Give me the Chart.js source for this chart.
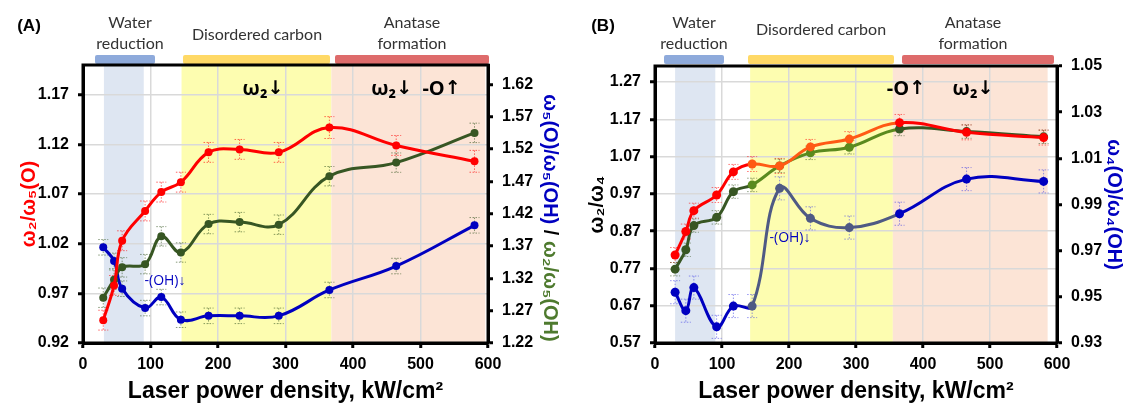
<!DOCTYPE html>
<html>
<head>
<meta charset="utf-8">
<script src="https://cdn.jsdelivr.net/npm/chart.js@4"></script>
<style>
  body { margin: 0; background: #fff; }
  #wrap { position: relative; width: 1130px; height: 410px; }
  #chartA { position: absolute; left: 0; top: 0; }
  #chartB { position: absolute; left: 565px; top: 0; }
</style>
</head>
<body>
<div id="wrap">
  <canvas id="chartA" width="565" height="410"></canvas>
  <canvas id="chartB" width="565" height="410"></canvas>
</div>
<script>
// ---- Données panneau (A) ----
const powerA = [30, 46, 58, 92, 116, 145, 186, 232, 290, 365, 464, 580];
const redA   = [0.943, 0.978, 1.023, 1.053, 1.072, 1.082, 1.112, 1.115, 1.112, 1.137, 1.119, 1.103];
const greenA = [1.290, 1.318, 1.337, 1.342, 1.385, 1.360, 1.404, 1.407, 1.403, 1.478, 1.499, 1.545];
const blueA  = [1.368, 1.347, 1.304, 1.274, 1.291, 1.256, 1.262, 1.262, 1.262, 1.302, 1.339, 1.402];
const errRedA   = [0.010, 0.010, 0.010, 0.010, 0.010, 0.010, 0.010, 0.010, 0.010, 0.011, 0.010, 0.011];
const errGreenA = [0.015, 0.015, 0.015, 0.015, 0.015, 0.015, 0.015, 0.015, 0.015, 0.015, 0.015, 0.015];
const errBlueA  = [0.012, 0.012, 0.012, 0.012, 0.012, 0.012, 0.012, 0.012, 0.012, 0.012, 0.012, 0.012];
const zoneStartA = [31, 146, 368];
const zoneEndA   = [90, 368, 596];

// ---- Données panneau (B) ----
const powerB = [30, 46, 58, 92, 117, 145, 186, 232, 290, 365, 465, 580];
const redB   = [0.806, 0.869, 0.925, 0.967, 1.029, 1.050, 1.045, 1.096, 1.117, 1.161, 1.135, 1.121];
const greenB = [0.768, 0.820, 0.885, 0.907, 0.976, 0.994, 1.045, 1.080, 1.095, 1.144, 1.137, 1.123];
const blueB  = [0.952, 0.944, 0.954, 0.937, 0.946, 0.946, 0.997, 0.984, 0.980, 0.986, 1.001, 1.000];
const errRedB   = [0.020, 0.020, 0.020, 0.020, 0.020, 0.020, 0.020, 0.020, 0.020, 0.022, 0.020, 0.020];
const errGreenB = [0.018, 0.018, 0.018, 0.018, 0.018, 0.018, 0.018, 0.018, 0.018, 0.018, 0.018, 0.018];
const errBlueB  = [0.005, 0.005, 0.005, 0.005, 0.005, 0.005, 0.005, 0.005, 0.005, 0.005, 0.005, 0.005];
const zoneStartB = [30, 142, 355];
const zoneEndB   = [90, 355, 586];

// ---- Graduations ----
const ticksX      = [0, 100, 200, 300, 400, 500, 600];
const ticksLeftA  = [0.92, 0.97, 1.02, 1.07, 1.12, 1.17];
const ticksRightA = [1.22, 1.27, 1.32, 1.37, 1.42, 1.47, 1.52, 1.57, 1.62];
const ticksLeftB  = [0.57, 0.67, 0.77, 0.87, 0.97, 1.07, 1.17, 1.27];
const ticksRightB = [0.93, 0.95, 0.97, 0.99, 1.01, 1.03, 1.05];

const FONT = '"Liberation Sans", Arial, sans-serif';
const LABEL_FONT = 'Lato, "Open Sans", sans-serif';
const NOTE_FONT = 'bold 20px "Open Sans", sans-serif';
const ARROW_FONT = 'bold 19px "DejaVu Sans", sans-serif';
const SMALL_FONT = '14px "Open Sans", sans-serif';
const RED = '#ff0000', GREEN = '#375623', BLUE = '#0000c0';

// Construit un axe Y
function yAxis(position, min, max, ticks, width, onArea, title, padTop) {
    return {
        type: 'linear', position, min, max,
        afterBuildTicks: s => { s.ticks = ticks.map(v => ({ value: v })); },
        afterFit: s => { s.width = width; },
        grid: { drawOnChartArea: onArea, color: '#d9d9d9', lineWidth: 1.5, tickColor: '#000', tickLength: 5, tickWidth: 3 },
        border: { color: '#000', width: 3 },
        ticks: { color: '#000', padding: 9, font: { family: FONT, size: 16, weight: 'bold' }, callback: v => v.toFixed(2) },
        title: title ? { display: true, text: title.text, color: title.color, padding: { top: padTop, bottom: 0 },
                         font: { family: FONT, size: 20, weight: 'bold' } } : { display: false }
    };
}

function xAxis() {
    return {
        type: 'linear', min: 0, max: 600,
        afterBuildTicks: s => { s.ticks = ticksX.map(v => ({ value: v })); },
        afterFit: s => { s.height = 67; },
        grid: { color: '#d9d9d9', lineWidth: 1.5, tickColor: '#000', tickLength: 5, tickWidth: 3 },
        border: { color: '#000', width: 3 },
        ticks: { color: '#000', padding: 7, maxRotation: 0, font: { family: FONT, size: 16, weight: 'bold' } },
        title: { display: true, text: 'Laser power density, kW/cm²', color: '#000', padding: { top: 0, bottom: 5 },
                 font: { family: FONT, size: 23, weight: 'bold' } }
    };
}

function points(xs, ys) {
    return xs.map((x, i) => ({ x, y: ys[i] }));
}

// Texte centré, flèches éventuellement dans une autre police
function drawNote(ctx, text, x, y, font, arrowFont) {
    const runs = [...text].map(c => ({ c, f: (c === '↓' || c === '↑') ? (arrowFont || font) : font }));
    let total = 0;
    runs.forEach(r => { ctx.font = r.f; r.w = ctx.measureText(r.c).width; total += r.w; });
    let cx = x - total / 2;
    ctx.textAlign = 'left';
    runs.forEach(r => { ctx.font = r.f; ctx.fillText(r.c, cx, y); cx += r.w; });
}

// Plugin : zones colorées, en-têtes, barres d'erreur, cadre, annotations
const decoPlugin = {
    id: 'deco',
    beforeDraw(chart, args, opts) {
        const { ctx, chartArea: a, scales: { x } } = chart;
        ctx.save();
        ctx.fillStyle = '#fff';
        ctx.fillRect(0, 0, chart.width, chart.height);
        opts.zoneStart.forEach((s, i) => {
            const x0 = x.getPixelForValue(s), x1 = x.getPixelForValue(opts.zoneEnd[i]);
            ctx.fillStyle = opts.zoneColors[i];
            ctx.fillRect(x0, a.top, x1 - x0, a.bottom - a.top);
        });
        opts.bars.forEach(b => {
            ctx.fillStyle = b.color;
            ctx.beginPath();
            ctx.roundRect(b.x0, 55, b.x1 - b.x0, 9, 2);
            ctx.fill();
        });
        ctx.fillStyle = '#333';
        ctx.font = '16px ' + LABEL_FONT;
        ctx.textAlign = 'center';
        ctx.textBaseline = 'middle';
        opts.headers.forEach(h => {
            h.lines.forEach((t, j) => ctx.fillText(t, h.x, h.y + j * 21));
        });
        ctx.fillStyle = '#000';
        ctx.font = 'bold 17px ' + FONT;
        ctx.fillText(opts.panel, opts.panelX, 26);
        ctx.restore();
    },
    beforeDatasetsDraw(chart) {
        const { ctx, scales } = chart;
        ctx.save();
        ctx.lineWidth = 1;
        ctx.setLineDash([1.5, 1.5]);
        chart.data.datasets.forEach(ds => {
            if (!ds.errors) return;
            const ys = scales[ds.yAxisID];
            ctx.strokeStyle = ds.errColor;
            ds.data.forEach((p, i) => {
                const px = scales.x.getPixelForValue(p.x);
                const top = ys.getPixelForValue(p.y + ds.errors[i]);
                const bot = ys.getPixelForValue(p.y - ds.errors[i]);
                ctx.beginPath();
                ctx.moveTo(px, top); ctx.lineTo(px, bot);
                ctx.moveTo(px - 5, top); ctx.lineTo(px + 5, top);
                ctx.moveTo(px - 5, bot); ctx.lineTo(px + 5, bot);
                ctx.stroke();
            });
        });
        ctx.restore();
    },
    afterDatasetsDraw(chart, args, opts) {
        const { ctx, chartArea: a } = chart;
        ctx.save();
        ctx.strokeStyle = '#000';
        ctx.lineWidth = 3;
        ctx.strokeRect(a.left, a.top, a.right - a.left, a.bottom - a.top);
        ctx.textBaseline = 'middle';
        opts.notes.forEach(n => {
            ctx.fillStyle = n.color;
            drawNote(ctx, n.text, n.x, n.y, n.font, n.arrowFont);
        });
        // titre droit bicolore (A)
        if (opts.rightTitle) {
            const parts = opts.rightTitle;
            ctx.font = 'bold 20px ' + FONT;
            const total = parts.reduce((s, p) => s + ctx.measureText(p.text).width, 0);
            ctx.translate(opts.rightTitleX, (a.top + a.bottom) / 2 + 14);
            ctx.rotate(Math.PI / 2);
            ctx.textAlign = 'left';
            let cx = -total / 2;
            parts.forEach(p => {
                ctx.fillStyle = p.color;
                ctx.fillText(p.text, cx, 0);
                cx += ctx.measureText(p.text).width;
            });
        }
        ctx.restore();
    }
};

// ---- Graphique (A) ----
new Chart(document.getElementById('chartA'), {
    type: 'line',
    data: {
        datasets: [
            { label: 'ω2/ω5(O)', data: points(powerA, redA), yAxisID: 'y', borderColor: RED, backgroundColor: RED,
              errors: errRedA, errColor: 'rgba(255,0,0,0.6)' },
            { label: 'ω2/ω5(OH)', data: points(powerA, greenA), yAxisID: 'y2', borderColor: GREEN, backgroundColor: GREEN,
              errors: errGreenA, errColor: 'rgba(55,86,35,0.6)' },
            { label: 'ω5(O)/ω5(OH)', data: points(powerA, blueA), yAxisID: 'y2', borderColor: BLUE, backgroundColor: BLUE,
              errors: errBlueA, errColor: 'rgba(55,86,35,0.6)' }
        ]
    },
    options: {
        responsive: false, animation: false, devicePixelRatio: 1,
        layout: { padding: { top: 65, left: 0, right: 0, bottom: 0 } },
        elements: { line: { borderWidth: 3, tension: 0.4 }, point: { radius: 4, borderWidth: 0 } },
        scales: {
            x: xAxis(),
            y: yAxis('left', 0.92, 1.20, ticksLeftA, 83, true, { text: 'ω₂/ω₅(O)', color: RED }, 17),
            y2: yAxis('right', 1.22, 1.65, ticksRightA, 77, false, null, 0)
        },
        plugins: {
            legend: { display: false }, tooltip: { enabled: false },
            deco: {
                panel: '(A)', panelX: 29,
                zoneStart: zoneStartA, zoneEnd: zoneEndA,
                zoneColors: ['#dee6f2', '#fdfdb0', '#fce4d6'],
                bars: [{ x0: 95, x1: 155, color: '#8eaadb' }, { x0: 183, x1: 330, color: '#ffd966' }, { x0: 335, x1: 489, color: '#de6b6b' }],
                headers: [{ x: 130, y: 23, lines: ['Water', 'reduction'] }, { x: 257, y: 35, lines: ['Disordered carbon'] },
                          { x: 412, y: 23, lines: ['Anatase', 'formation'] }],
                notes: [{ text: 'ω₂↓', x: 263, y: 89, color: '#000', font: NOTE_FONT, arrowFont: ARROW_FONT },
                        { text: 'ω₂↓  -O↑', x: 416, y: 89, color: '#000', font: NOTE_FONT, arrowFont: ARROW_FONT },
                        { text: '-(OH)↓', x: 165, y: 281, color: BLUE, font: SMALL_FONT }],
                rightTitle: [{ text: 'ω₅(O)/ω₅(OH)', color: BLUE }, { text: ' / ', color: '#000' }, { text: 'ω₂/ω₅(OH)', color: '#4e7a2e' }],
                rightTitleX: 550
            }
        }
    },
    plugins: [decoPlugin]
});

// ---- Graphique (B) ----
const midIdx = i => i >= 5 && i <= 8;
const segColor = (base, mid) => ctx => (ctx.p0DataIndex >= 5 && ctx.p0DataIndex < 9 ? mid : base);

new Chart(document.getElementById('chartB'), {
    type: 'line',
    data: {
        datasets: [
            { label: 'ω2/ω4(O)', data: points(powerB, redB), yAxisID: 'y', borderColor: RED,
              pointBackgroundColor: powerB.map((x, i) => midIdx(i) ? '#ff5a14' : RED),
              segment: { borderColor: segColor(RED, '#ff5a14') },
              errors: errRedB, errColor: 'rgba(255,0,0,0.55)' },
            { label: 'ω2/ω4(OH)', data: points(powerB, greenB), yAxisID: 'y', borderColor: GREEN,
              pointBackgroundColor: powerB.map((x, i) => midIdx(i) ? '#5a8a1e' : GREEN),
              segment: { borderColor: segColor(GREEN, '#5a8a1e') },
              errors: errGreenB, errColor: 'rgba(55,86,35,0.55)' },
            { label: 'ω4(O)/ω4(OH)', data: points(powerB, blueB), yAxisID: 'y2', borderColor: BLUE,
              pointBackgroundColor: powerB.map((x, i) => midIdx(i) ? '#4f5a84' : BLUE),
              segment: { borderColor: segColor(BLUE, '#4f5a84') },
              errors: errBlueB, errColor: 'rgba(60,60,230,0.55)' }
        ]
    },
    options: {
        responsive: false, animation: false, devicePixelRatio: 1,
        layout: { padding: { top: 66, left: 0, right: 0, bottom: 0 } },
        elements: { line: { borderWidth: 3, tension: 0.4 }, point: { radius: 4.5, borderWidth: 0 } },
        scales: {
            x: xAxis(),
            y: yAxis('left', 0.57, 1.313, ticksLeftB, 90, true, { text: 'ω₂/ω₄', color: '#000' }, 20),
            y2: yAxis('right', 0.93, 1.05, ticksRightB, 73, false, { text: 'ω₄(O)/ω₄(OH)', color: BLUE }, 4)
        },
        plugins: {
            legend: { display: false }, tooltip: { enabled: false },
            deco: {
                panel: '(B)', panelX: 38,
                zoneStart: zoneStartB, zoneEnd: zoneEndB,
                zoneColors: ['#dee6f2', '#fdfdb0', '#fce4d6'],
                bars: [{ x0: 99, x1: 159, color: '#8eaadb' }, { x0: 183, x1: 329, color: '#ffd966' }, { x0: 337, x1: 489, color: '#de6b6b' }],
                headers: [{ x: 129, y: 23, lines: ['Water', 'reduction'] }, { x: 256, y: 30, lines: ['Disordered carbon'] },
                          { x: 408, y: 23, lines: ['Anatase', 'formation'] }],
                notes: [{ text: '-O↑', x: 341, y: 89, color: '#000', font: NOTE_FONT, arrowFont: ARROW_FONT },
                        { text: 'ω₂↓', x: 408, y: 89, color: '#000', font: NOTE_FONT, arrowFont: ARROW_FONT },
                        { text: '-(OH)↓', x: 225, y: 238, color: BLUE, font: SMALL_FONT }]
            }
        }
    },
    plugins: [decoPlugin]
});
</script>
</body>
</html>
